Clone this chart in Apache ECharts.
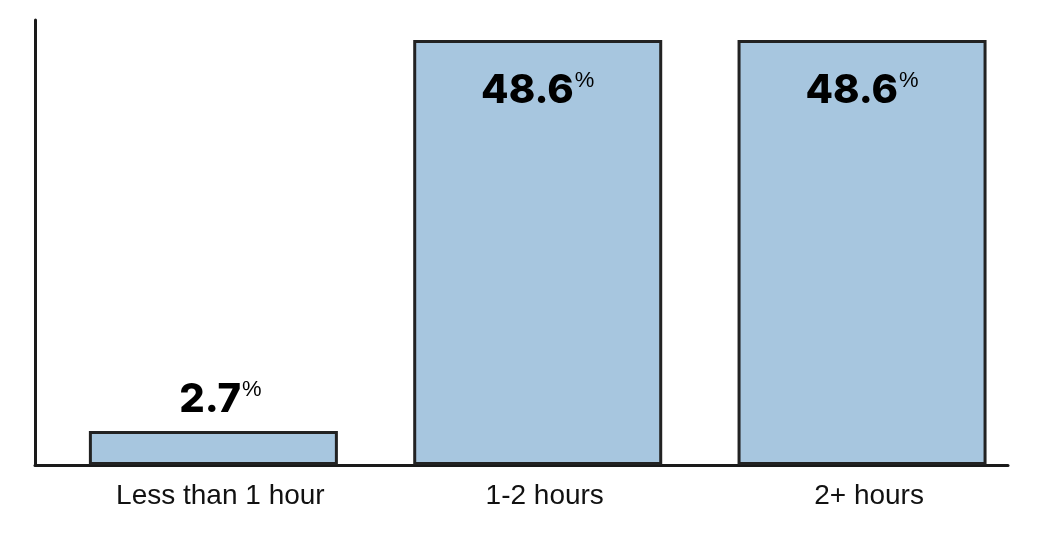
<!DOCTYPE html>
<html><head><meta charset="utf-8">
<script src="https://cdn.jsdelivr.net/npm/echarts@6/dist/echarts.min.js"></script>
<style>html,body{margin:0;padding:0;background:#fff}#c{width:1043px;height:533px}</style>
</head><body><div id="c"></div>
<script>
const categories = ["Less than 1 hour", "1-2 hours", "2+ hours"];
const values = [2.7, 48.6, 48.6];
const labelInside = [false, true, true];

const chart = echarts.init(document.getElementById('c'));
const data = values.map((v, i) => ({
  value: [i, v],
  label: labelInside[i]
    ? { position: 'insideTop', distance: 30 }
    : { position: 'top', distance: 14, offset: [7, 4] }
}));
chart.setOption({
  animation: false,
  grid: { left: 35, right: 35, top: 20, bottom: 68 },
  xAxis: {
    type: 'value', min: -0.55, max: 2.45,
    splitLine: { show: false },
    axisTick: { show: false },
    axisLine: { show: true, onZero: false, lineStyle: { color: '#1a1a1a', width: 3 } },
    axisLabel: {
      customValues: [0, 1, 2],
      formatter: v => categories[Math.round(v)],
      color: '#111', fontSize: 28, fontFamily: 'Liberation Sans', margin: 17,
      padding: [0, 0, 0, 14]
    }
  },
  yAxis: {
    type: 'value', min: 0, max: 50.9,
    splitLine: { show: false },
    axisTick: { show: false },
    axisLabel: { show: false },
    axisLine: { show: true, onZero: false, lineStyle: { color: '#1a1a1a', width: 3 } }
  },
  series: [{
    type: 'bar',
    data: data,
    barWidth: 249,
    barMinHeight: 34,
    itemStyle: { color: '#a7c6df', borderColor: '#222', borderWidth: 3 },
    label: {
      show: true,
      formatter: p => '{v|' + p.value[1].toFixed(1) + '}{p|%}',
      rich: {
        v: { fontSize: 40, fontWeight: 800, fontFamily: 'Inter', color: '#000', lineHeight: 42 },
        p: { fontSize: 22, fontWeight: 500, fontFamily: 'Liberation Sans', color: '#000', verticalAlign: 'top', lineHeight: 42, padding: [0, 0, 16, 1] }
      }
    }
  }]
});
</script></body></html>
